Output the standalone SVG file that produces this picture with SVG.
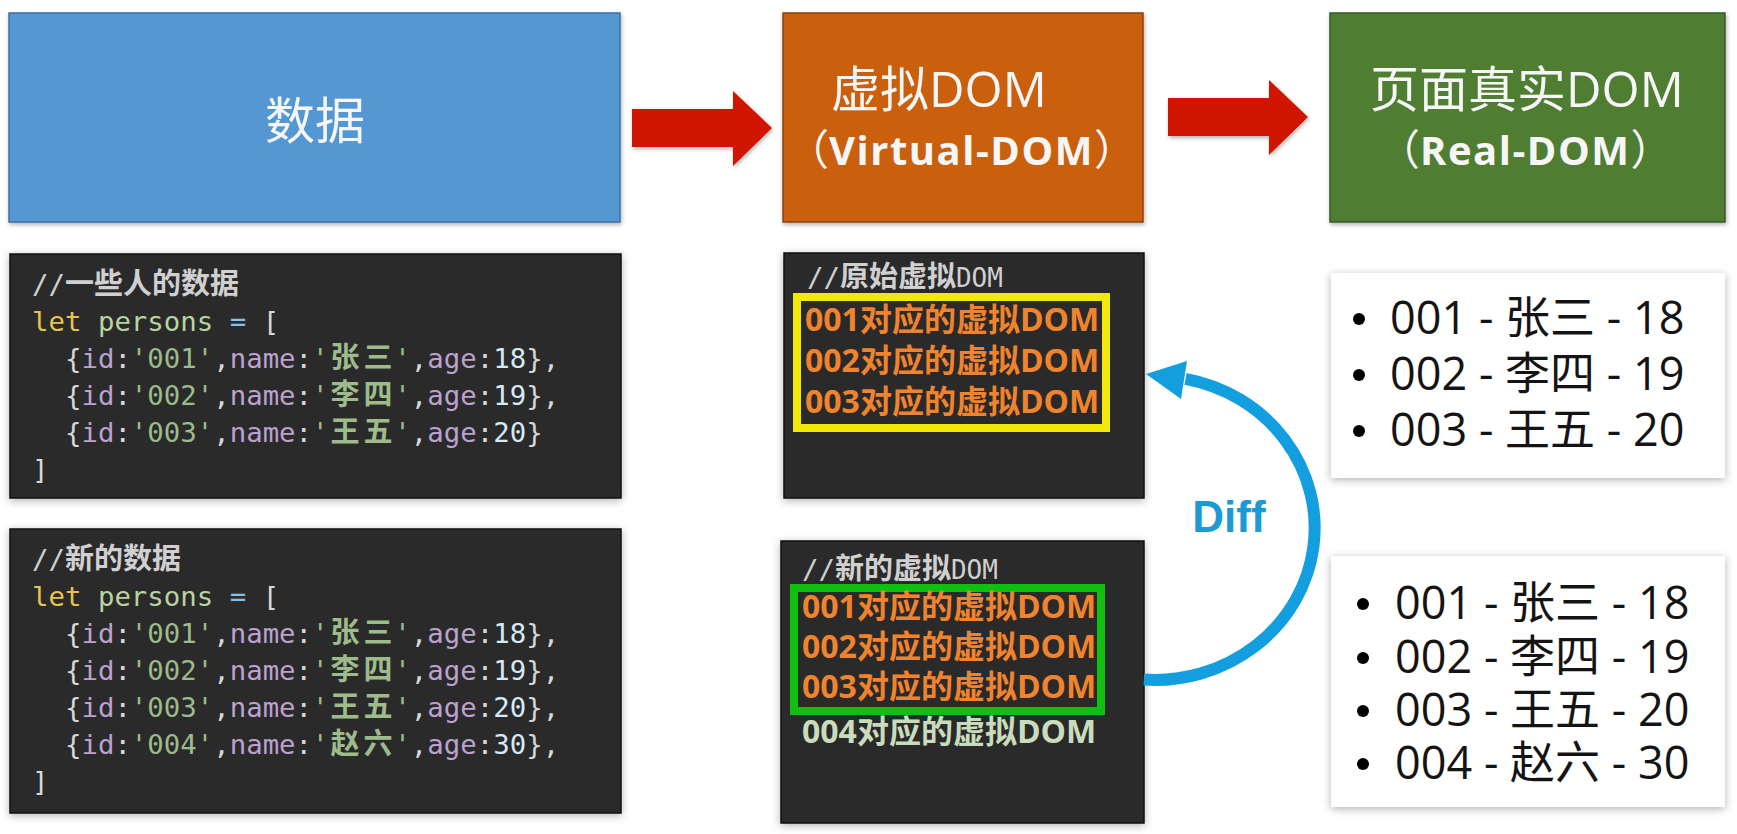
<svg xmlns="http://www.w3.org/2000/svg" width="1737" height="834" viewBox="0 0 1737 834">
<defs>
<filter id="sh" x="-10%" y="-10%" width="120%" height="120%">
<feDropShadow dx="0" dy="2" stdDeviation="4" flood-color="#000" flood-opacity="0.3"/>
</filter>
<filter id="sh2" x="-10%" y="-20%" width="120%" height="140%">
<feDropShadow dx="1" dy="2" stdDeviation="2" flood-color="#000" flood-opacity="0.3"/>
</filter>
</defs>
<style>
.title{font-family:"Open Sans","Noto Sans CJK SC",sans-serif;fill:#f6f6f6}
.par{font-family:"Noto Sans CJK SC",sans-serif;font-weight:normal;font-size:42px}
.sub{font-weight:bold;font-size:40px;letter-spacing:1.5px}
.code{font-family:"DejaVu Sans Mono","Liberation Mono",monospace;font-size:27.36px}
.cj{font-family:"Noto Sans CJK SC",sans-serif;font-weight:bold;font-size:29px}
.w{fill:#d8d8d8}
.k{fill:#bba2d0}
.s{fill:#9dbb8b}
.n{fill:#d6e9f6}
.y{fill:#e8c34f}
.g{fill:#b9d4a0}
.b{fill:#86bfe8}
.c{fill:#d0d0d0}
.codebox{fill:#2a2a2a;stroke:#111;stroke-width:1.5}
.vd{font-family:"Open Sans","Noto Sans CJK SC",sans-serif;font-weight:bold;font-size:32px;fill:#f0832d}
.vd4{font-family:"Open Sans","Noto Sans CJK SC",sans-serif;font-weight:bold;font-size:32px;fill:#c9dcbc}
.li{font-family:"Open Sans","Noto Sans CJK SC",sans-serif;font-size:45px;fill:#141414}
.wbox{fill:#fff}
</style>
<rect width="1737" height="834" fill="#fff"/>

<g id="node-data">
<rect x="9" y="13" width="611" height="209" fill="#5597d2" stroke="#3f6f9f" stroke-width="1.5" filter="url(#sh2)"/>
<text class="title" x="315" y="139" font-size="50" text-anchor="middle">数据</text>
</g>

<g id="node-virtual-dom">
<rect x="783" y="13" width="360" height="209" fill="#ca5e11" stroke="#8a4410" stroke-width="1.5" filter="url(#sh2)"/>
<text class="title" x="831" y="107" font-size="49">虚拟DOM</text>
<text class="title" x="787" y="165"><tspan class="par">（</tspan><tspan class="sub">Virtual-DOM</tspan><tspan class="par">）</tspan></text>
</g>

<g id="node-real-dom">
<rect x="1330" y="13" width="395" height="209" fill="#507d32" stroke="#37592a" stroke-width="1.5" filter="url(#sh2)"/>
<text class="title" x="1370" y="107" font-size="49">页面真实DOM</text>
<text class="title" x="1378" y="165"><tspan class="par">（</tspan><tspan class="sub">Real-DOM</tspan><tspan class="par">）</tspan></text>
</g>

<g id="node-old-data">
<rect class="codebox" x="10" y="254" width="611" height="244" filter="url(#sh)"/>
<text class="code" x="32" y="294"><tspan class="c">//</tspan><tspan class="cj c" font-size="31">一些人的数据</tspan></text>
<text class="code" x="32" y="331"><tspan class="y">let</tspan> <tspan class="g">persons</tspan> <tspan class="b">=</tspan> <tspan class="w">[</tspan></text>
<text class="code" y="368"><tspan x="64.94" class="w">{</tspan><tspan class="k">id</tspan><tspan class="w">:</tspan><tspan class="s">'001'</tspan><tspan class="w">,</tspan><tspan class="k">name</tspan><tspan class="w">:</tspan><tspan class="s">'</tspan><tspan class="cj s" x="330.5 363.4">张三</tspan><tspan x="394.34" class="s">'</tspan><tspan class="w">,</tspan><tspan class="k">age</tspan><tspan class="w">:</tspan><tspan class="n">18</tspan><tspan class="w">},</tspan></text>
<text class="code" y="405"><tspan x="64.94" class="w">{</tspan><tspan class="k">id</tspan><tspan class="w">:</tspan><tspan class="s">'002'</tspan><tspan class="w">,</tspan><tspan class="k">name</tspan><tspan class="w">:</tspan><tspan class="s">'</tspan><tspan class="cj s" x="330.5 363.4">李四</tspan><tspan x="394.34" class="s">'</tspan><tspan class="w">,</tspan><tspan class="k">age</tspan><tspan class="w">:</tspan><tspan class="n">19</tspan><tspan class="w">},</tspan></text>
<text class="code" y="442"><tspan x="64.94" class="w">{</tspan><tspan class="k">id</tspan><tspan class="w">:</tspan><tspan class="s">'003'</tspan><tspan class="w">,</tspan><tspan class="k">name</tspan><tspan class="w">:</tspan><tspan class="s">'</tspan><tspan class="cj s" x="330.5 363.4">王五</tspan><tspan x="394.34" class="s">'</tspan><tspan class="w">,</tspan><tspan class="k">age</tspan><tspan class="w">:</tspan><tspan class="n">20</tspan><tspan class="w">}</tspan></text>
<text class="code w" x="32" y="479">]</text>
</g>

<g id="node-new-data">
<rect class="codebox" x="10" y="529" width="611" height="284" filter="url(#sh)"/>
<text class="code" x="32" y="569"><tspan class="c">//</tspan><tspan class="cj c" font-size="31">新的数据</tspan></text>
<text class="code" x="32" y="606"><tspan class="y">let</tspan> <tspan class="g">persons</tspan> <tspan class="b">=</tspan> <tspan class="w">[</tspan></text>
<text class="code" y="643"><tspan x="64.94" class="w">{</tspan><tspan class="k">id</tspan><tspan class="w">:</tspan><tspan class="s">'001'</tspan><tspan class="w">,</tspan><tspan class="k">name</tspan><tspan class="w">:</tspan><tspan class="s">'</tspan><tspan class="cj s" x="330.5 363.4">张三</tspan><tspan x="394.34" class="s">'</tspan><tspan class="w">,</tspan><tspan class="k">age</tspan><tspan class="w">:</tspan><tspan class="n">18</tspan><tspan class="w">},</tspan></text>
<text class="code" y="680"><tspan x="64.94" class="w">{</tspan><tspan class="k">id</tspan><tspan class="w">:</tspan><tspan class="s">'002'</tspan><tspan class="w">,</tspan><tspan class="k">name</tspan><tspan class="w">:</tspan><tspan class="s">'</tspan><tspan class="cj s" x="330.5 363.4">李四</tspan><tspan x="394.34" class="s">'</tspan><tspan class="w">,</tspan><tspan class="k">age</tspan><tspan class="w">:</tspan><tspan class="n">19</tspan><tspan class="w">},</tspan></text>
<text class="code" y="717"><tspan x="64.94" class="w">{</tspan><tspan class="k">id</tspan><tspan class="w">:</tspan><tspan class="s">'003'</tspan><tspan class="w">,</tspan><tspan class="k">name</tspan><tspan class="w">:</tspan><tspan class="s">'</tspan><tspan class="cj s" x="330.5 363.4">王五</tspan><tspan x="394.34" class="s">'</tspan><tspan class="w">,</tspan><tspan class="k">age</tspan><tspan class="w">:</tspan><tspan class="n">20</tspan><tspan class="w">},</tspan></text>
<text class="code" y="754"><tspan x="64.94" class="w">{</tspan><tspan class="k">id</tspan><tspan class="w">:</tspan><tspan class="s">'004'</tspan><tspan class="w">,</tspan><tspan class="k">name</tspan><tspan class="w">:</tspan><tspan class="s">'</tspan><tspan class="cj s" x="330.5 363.4">赵六</tspan><tspan x="394.34" class="s">'</tspan><tspan class="w">,</tspan><tspan class="k">age</tspan><tspan class="w">:</tspan><tspan class="n">30</tspan><tspan class="w">},</tspan></text>
<text class="code w" x="32" y="791">]</text>
</g>

<g id="node-old-vdom">
<rect class="codebox" x="784" y="253" width="360" height="245" filter="url(#sh)"/>
<text class="code" x="807" y="287"><tspan class="c">//</tspan><tspan class="cj c">原始虚拟</tspan><tspan class="c" font-size="26">DOM</tspan></text>
<rect x="797" y="297" width="309" height="131" fill="none" stroke="#f2e80a" stroke-width="8"/>
<text class="vd" x="805" y="331">001对应的虚拟DOM</text>
<text class="vd" x="805" y="372">002对应的虚拟DOM</text>
<text class="vd" x="805" y="413">003对应的虚拟DOM</text>
</g>

<g id="node-new-vdom">
<rect class="codebox" x="781" y="541" width="363" height="282" filter="url(#sh)"/>
<text class="code" x="802" y="579"><tspan class="c">//</tspan><tspan class="cj c">新的虚拟</tspan><tspan class="c" font-size="26">DOM</tspan></text>
<rect x="794" y="588" width="307" height="123" fill="none" stroke="#10c010" stroke-width="8"/>
<text class="vd" x="802" y="618">001对应的虚拟DOM</text>
<text class="vd" x="802" y="658">002对应的虚拟DOM</text>
<text class="vd" x="802" y="698">003对应的虚拟DOM</text>
<text class="vd4" x="802" y="743">004对应的虚拟DOM</text>
</g>

<g id="node-old-real">
<rect class="wbox" x="1331" y="273" width="394" height="205" filter="url(#sh)"/>
<circle cx="1359" cy="319" r="6" fill="#000"/>
<circle cx="1359" cy="375" r="6" fill="#000"/>
<circle cx="1359" cy="431" r="6" fill="#000"/>
<text class="li" x="1390" y="334">001 - 张三 - 18</text>
<text class="li" x="1390" y="390">002 - 李四 - 19</text>
<text class="li" x="1390" y="446">003 - 王五 - 20</text>
</g>

<g id="node-new-real">
<rect class="wbox" x="1331" y="556" width="394" height="251" filter="url(#sh)"/>
<circle cx="1363" cy="604" r="6" fill="#000"/>
<circle cx="1363" cy="658" r="6" fill="#000"/>
<circle cx="1363" cy="711" r="6" fill="#000"/>
<circle cx="1363" cy="764" r="6" fill="#000"/>
<text class="li" x="1395" y="619">001 - 张三 - 18</text>
<text class="li" x="1395" y="673">002 - 李四 - 19</text>
<text class="li" x="1395" y="726">003 - 王五 - 20</text>
<text class="li" x="1395" y="779">004 - 赵六 - 30</text>
</g>

<g id="connectors">
<polygon points="632,109 733,109 733,91 772,128 733,166 733,147 632,147" fill="#d01200" filter="url(#sh2)"/>
<polygon points="1168,98 1269,98 1269,80 1308,117 1269,155 1269,136 1168,136" fill="#d01200" filter="url(#sh2)"/>
<path d="M1143.8,679.6 A160,152 0 0 0 1185.5,378.8" fill="none" stroke="#139ee0" stroke-width="12"/>
<polygon points="1146,374 1187,361 1181,399" fill="#139ee0"/>
<text x="1229" y="532" text-anchor="middle" font-family="Liberation Sans, Arial, sans-serif" font-weight="bold" font-size="44" fill="#1b9ad6">Diff</text>
</g>
</svg>
